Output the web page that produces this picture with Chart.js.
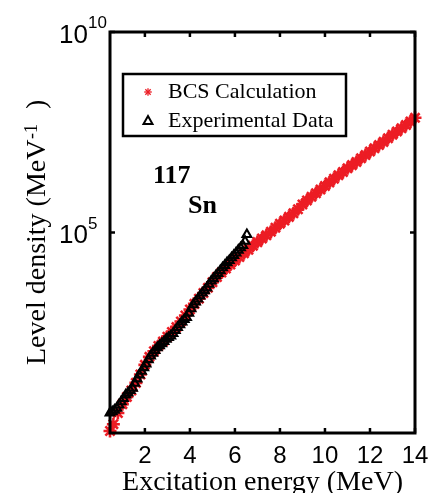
<!DOCTYPE html>
<html>
<head>
<meta charset="utf-8">
<script src="https://cdn.jsdelivr.net/npm/chart.js@4.4.0/dist/chart.umd.min.js"></script>
<style>
  html, body { margin: 0; padding: 0; background: #fff; }
  #wrap { width: 435px; height: 493px; }
</style>
</head>
<body>
<div id="wrap"><canvas id="levelChart" width="435" height="493"></canvas></div>
<script>
var xTicks = [2, 4, 6, 8, 10, 12, 14];
var yTicks = [1e5, 1e10];
var yTickExp = ["5", "10"];

// BCS calculation (log10 of level density)
var bcsEnergy = [0.45, 0.6, 0.8, 1.0, 1.2, 1.4, 1.6, 1.8, 2.0, 2.2, 2.4, 2.6, 2.8, 3.0, 3.2, 3.4, 3.6, 3.8,
  4.0, 4.2, 4.4, 4.6, 4.8, 5.0, 5.2, 5.4, 5.6, 5.8, 6.0, 6.2, 6.4, 6.6, 6.8, 7.0, 7.2, 7.4, 7.6, 7.8,
  8.0, 8.2, 8.4, 8.6, 8.8, 9.0, 9.2, 9.4, 9.6, 9.8, 10.0, 10.2, 10.4, 10.6, 10.8, 11.0, 11.2, 11.4,
  11.6, 11.8, 12.0, 12.2, 12.4, 12.6, 12.8, 13.0, 13.2, 13.4, 13.6, 13.8, 14.0];
var bcsLogDensity = [0.05, 0.22, 0.5, 0.72, 0.9, 1.06, 1.25, 1.46, 1.7, 1.9, 2.04, 2.17, 2.28, 2.4, 2.52, 2.64, 2.78, 2.93,
  3.08, 3.22, 3.35, 3.49, 3.62, 3.76, 3.89, 4.0, 4.1, 4.2, 4.3, 4.39, 4.48, 4.57, 4.67, 4.76, 4.85, 4.93, 5.02, 5.12,
  5.22, 5.3, 5.39, 5.48, 5.58, 5.7, 5.8, 5.89, 5.98, 6.07, 6.16, 6.25, 6.34, 6.43, 6.51, 6.6, 6.68, 6.76,
  6.85, 6.93, 7.02, 7.1, 7.18, 7.26, 7.35, 7.44, 7.52, 7.6, 7.68, 7.77, 7.86];

// experimental data, black triangles
var expEnergy = [0.45, 0.55, 0.65, 0.75, 0.85, 0.95, 1.05, 1.15, 1.25, 1.35, 1.45, 1.55, 1.65, 1.75, 1.85,
  1.95, 2.05, 2.15, 2.25, 2.35, 2.45, 2.55, 2.65, 2.75, 2.85, 2.95, 3.05, 3.15, 3.25, 3.35,
  3.45, 3.55, 3.65, 3.75, 3.85, 3.95, 4.05, 4.15, 4.25, 4.35, 4.45, 4.55, 4.65, 4.75, 4.85,
  4.95, 5.05, 5.15, 5.25, 5.35, 5.45, 5.55, 5.65, 5.75, 5.85, 5.95, 6.05, 6.15, 6.25, 6.35,
  6.45, 6.53];
var expLogDensity = [0.5, 0.53, 0.57, 0.62, 0.7, 0.78, 0.86, 0.95, 1.0, 1.06, 1.12, 1.24, 1.35, 1.45, 1.54,
  1.63, 1.72, 1.83, 1.92, 1.99, 2.06, 2.13, 2.18, 2.23, 2.28, 2.34, 2.38, 2.42, 2.48, 2.56,
  2.63, 2.7, 2.77, 2.83, 2.88, 2.99, 3.1, 3.2, 3.27, 3.34, 3.42, 3.49, 3.55, 3.62, 3.71,
  3.79, 3.85, 3.92, 3.98, 4.05, 4.12, 4.18, 4.25, 4.3, 4.37, 4.43, 4.49, 4.56, 4.62, 4.68,
  4.78, 4.95];

var RED = "#ec1c24";
var SERIF = "'Liberation Serif', 'Times New Roman', serif";
var SANS = "'Liberation Sans', Arial, sans-serif";

function toPoints(xs, logs) {
  return xs.map(function (x, i) {
    return { x: x, y: Math.pow(10, logs[i]) };
  });
}

function line(ctx, x1, y1, x2, y2) {
  ctx.beginPath();
  ctx.moveTo(x1, y1);
  ctx.lineTo(x2, y2);
  ctx.stroke();
}

function asterisk(ctx, x, y, r) {
  var d = r * Math.SQRT1_2;
  line(ctx, x - r, y, x + r, y);
  line(ctx, x, y - r, x, y + r);
  line(ctx, x - d, y - d, x + d, y + d);
  line(ctx, x - d, y + d, x + d, y - d);
}

var overlay = {
  id: "overlay",
  afterDraw: function (chart) {
    var ctx = chart.ctx;
    var a = chart.chartArea;
    var xs = chart.scales.x;
    var ys = chart.scales.y;
    ctx.save();

    // frame and inward ticks
    ctx.strokeStyle = "#000";
    ctx.lineWidth = 3;
    ctx.strokeRect(a.left, a.top, a.right - a.left, a.bottom - a.top);
    ctx.lineWidth = 2.5;
    xTicks.forEach(function (v) {
      var px = xs.getPixelForValue(v);
      line(ctx, px, a.bottom, px, a.bottom - 5);
      line(ctx, px, a.top, px, a.top + 5);
    });
    yTicks.forEach(function (v) {
      var py = ys.getPixelForValue(v);
      line(ctx, a.left, py, a.left + 5, py);
      line(ctx, a.right, py, a.right - 5, py);
    });

    // y tick labels with superscript exponent
    ctx.fillStyle = "#000";
    ctx.textBaseline = "alphabetic";
    yTicks.forEach(function (v, i) {
      var py = ys.getPixelForValue(v);
      ctx.font = "26px " + SANS;
      ctx.textAlign = "right";
      ctx.fillText("10", a.left - 22, py + 10.5);
      ctx.font = "17px " + SANS;
      ctx.textAlign = "left";
      ctx.fillText(yTickExp[i], a.left - 22, py - 4);
    });

    // x title
    ctx.font = "28px " + SERIF;
    ctx.textAlign = "center";
    ctx.fillText("Excitation energy (MeV)", (a.left + a.right) / 2, 490);

    // y title, rotated
    ctx.save();
    ctx.translate(45, 365);
    ctx.rotate(-Math.PI / 2);
    ctx.textAlign = "left";
    ctx.font = "28px " + SERIF;
    ctx.fillText("Level density (MeV", 0, 0);
    ctx.font = "18px " + SERIF;
    ctx.fillText("-1", 226, -8);
    ctx.font = "28px " + SERIF;
    ctx.fillText(")", 256, 0);
    ctx.restore();

    // legend
    ctx.lineWidth = 2.5;
    ctx.strokeStyle = "#000";
    ctx.strokeRect(123, 74, 223, 62);
    ctx.strokeStyle = RED;
    ctx.lineWidth = 1.3;
    asterisk(ctx, 148, 92, 3.8);
    ctx.strokeStyle = "#000";
    ctx.lineWidth = 2;
    ctx.beginPath();
    ctx.moveTo(148, 116);
    ctx.lineTo(152.5, 124);
    ctx.lineTo(143.5, 124);
    ctx.closePath();
    ctx.stroke();
    ctx.fillStyle = "#000";
    ctx.font = "22px " + SERIF;
    ctx.textAlign = "left";
    ctx.fillText("BCS Calculation", 168, 98);
    ctx.fillText("Experimental Data", 168, 127);

    // nucleus label
    ctx.font = "bold 26px " + SERIF;
    ctx.fillText("117", 153, 183);
    ctx.fillText("Sn", 188, 213);

    ctx.restore();
  }
};

document.addEventListener("DOMContentLoaded", function () {
  var canvas = document.getElementById("levelChart");
  new Chart(canvas.getContext("2d"), {
    type: "scatter",
    data: {
      datasets: [
        {
          label: "Experimental Data",
          data: toPoints(expEnergy, expLogDensity),
          pointStyle: "triangle",
          pointRadius: 5,
          pointBorderWidth: 2.1,
          pointBorderColor: "#000",
          pointBackgroundColor: "rgba(0,0,0,0)",
          clip: false,
          order: 1
        },
        {
          label: "BCS Calculation",
          data: toPoints(bcsEnergy, bcsLogDensity),
          pointStyle: "star",
          pointRadius: 6.5,
          pointBorderWidth: 2.6,
          pointBorderColor: RED,
          pointBackgroundColor: RED,
          clip: false,
          order: 2
        }
      ]
    },
    options: {
      responsive: false,
      animation: false,
      layout: { padding: { top: 32, right: 20, left: 0, bottom: 0 } },
      plugins: {
        legend: { display: false },
        tooltip: { enabled: false }
      },
      scales: {
        x: {
          type: "linear",
          min: 0.45,
          max: 14,
          grid: { display: false },
          border: { display: false },
          afterBuildTicks: function (axis) {
            axis.ticks = xTicks.map(function (v) { return { value: v }; });
          },
          afterFit: function (axis) { axis.height = 60; },
          ticks: {
            color: "#000",
            padding: 1,
            maxRotation: 0,
            font: { family: SANS, size: 24 }
          }
        },
        y: {
          type: "logarithmic",
          min: 1,
          max: 1e10,
          grid: { display: false },
          border: { display: false },
          afterBuildTicks: function (axis) {
            axis.ticks = yTicks.map(function (v) { return { value: v }; });
          },
          afterFit: function (axis) { axis.width = 110; },
          ticks: { display: false }
        }
      }
    },
    plugins: [overlay]
  });
});
</script>
</body>
</html>
